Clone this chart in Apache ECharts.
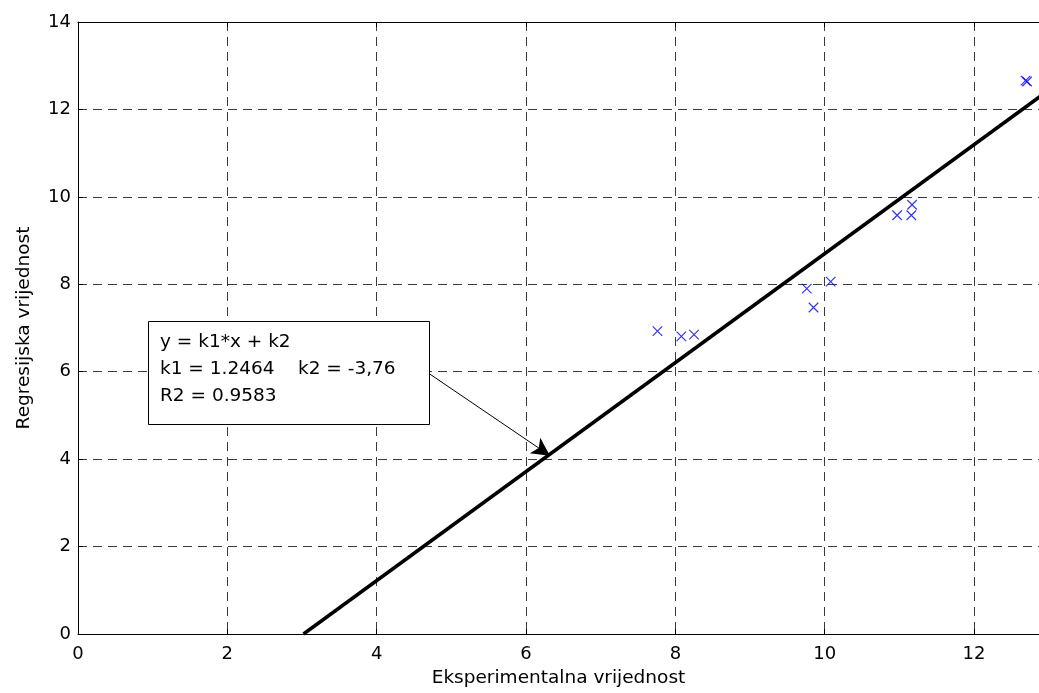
<!DOCTYPE html>
<html>
<head>
<meta charset="utf-8">
<script src="https://cdn.jsdelivr.net/npm/echarts@6/dist/echarts.min.js"></script>
<style>
html,body{margin:0;padding:0;background:#fff;}
#c{width:1039px;height:693px;}
</style>
</head>
<body>
<div id="c"></div>
<script>
// Measured points (Eksperimentalna, Regresijska)
const expX = [7.76, 8.08, 8.25, 9.76, 9.85, 10.08, 10.97, 11.16, 11.17, 12.69, 12.71];
const regY = [6.93, 6.81, 6.85, 7.90, 7.47, 8.06, 9.58, 9.58, 9.82, 12.66, 12.64];
// Regression line endpoints
const fitX = [3.02, 13.0];
const fitY = [0, 12.44];
// Arrow annotation from box edge to line
const arrowFrom = [4.70, 5.96];
const arrowTo = [6.32, 4.08];
const annotationLines = ['y = k1*x + k2', 'k1 = 1.2464    k2 = -3,76', 'R2 = 0.9583'];
const xTitle = 'Eksperimentalna vrijednost';
const yTitle = 'Regresijska vrijednost';

const FONT = '"DejaVu Sans", "Liberation Sans", Arial, sans-serif';
const chart = echarts.init(document.getElementById('c'), null, {renderer: 'canvas'});

const scatterData = expX.map((x, i) => [x, regY[i]]);
const fitData = fitX.map((x, i) => [x, fitY[i]]);

const gridLine = {show: true, lineStyle: {color: '#3a3a3a', width: 1, type: [9, 6]}};
const XMAX = 12.87;

chart.setOption({
  animation: false,
  backgroundColor: '#fff',
  grid: {left: 78, top: 22, bottom: 58, right: 0, show: false},
  xAxis: [{
    type: 'value', min: 0, max: XMAX, interval: 2, position: 'bottom',
    name: xTitle, nameLocation: 'middle', nameGap: 35,
    nameTextStyle: {fontFamily: FONT, fontSize: 18.5, color: '#000'},
    axisLine: {show: true, onZero: false, lineStyle: {color: '#000', width: 1}},
    axisTick: {show: true, inside: true, length: 5, lineStyle: {color: '#000'}},
    axisLabel: {fontFamily: FONT, fontSize: 18, color: '#000', margin: 11, showMaxLabel: false},
    splitLine: gridLine
  }, {
    type: 'value', min: 0, max: XMAX, interval: 2, position: 'top',
    axisLine: {show: true, onZero: false, lineStyle: {color: '#000', width: 1}},
    axisTick: {show: true, inside: true, length: 5, lineStyle: {color: '#000'}},
    axisLabel: {show: false},
    splitLine: {show: false}
  }],
  yAxis: {
    type: 'value', min: 0, max: 14, interval: 2,
    name: yTitle, nameLocation: 'middle', nameGap: 44,
    nameTextStyle: {fontFamily: FONT, fontSize: 18.5, color: '#000'},
    axisLine: {show: true, onZero: false, lineStyle: {color: '#000', width: 1}},
    axisTick: {show: true, inside: true, length: 5, lineStyle: {color: '#000'}},
    axisLabel: {fontFamily: FONT, fontSize: 18, color: '#000', margin: 7},
    splitLine: gridLine
  },
  series: [
    {
      type: 'line', data: fitData, showSymbol: false, symbol: 'none',
      lineStyle: {color: '#000', width: 3.5}, z: 3, clip: true,
      markLine: {
        silent: true, symbol: ['none', 'arrow'], symbolSize: [14, 18],
        label: {show: false},
        lineStyle: {color: '#000', width: 1, type: 'solid'},
        data: [[{coord: arrowFrom}, {coord: arrowTo}]]
      }
    },
    {
      type: 'scatter', data: scatterData,
      symbol: 'path://M0,0L10,10M10,0L0,10', symbolSize: 9.5,
      itemStyle: {color: 'none', borderColor: '#0000ff', borderWidth: 1.2},
      z: 4
    }
  ],
  graphic: [
    {type: 'rect', z: 100, left: 148, top: 321, shape: {x: 0, y: 0, width: 281, height: 103}, style: {fill: '#fff', stroke: '#000', lineWidth: 1}},
    {type: 'text', z: 101, left: 160, top: 329, style: {text: annotationLines.join('\n'), font: '18.5px ' + FONT, fill: '#000', lineHeight: 27}}
  ]
});
</script>
</body>
</html>
